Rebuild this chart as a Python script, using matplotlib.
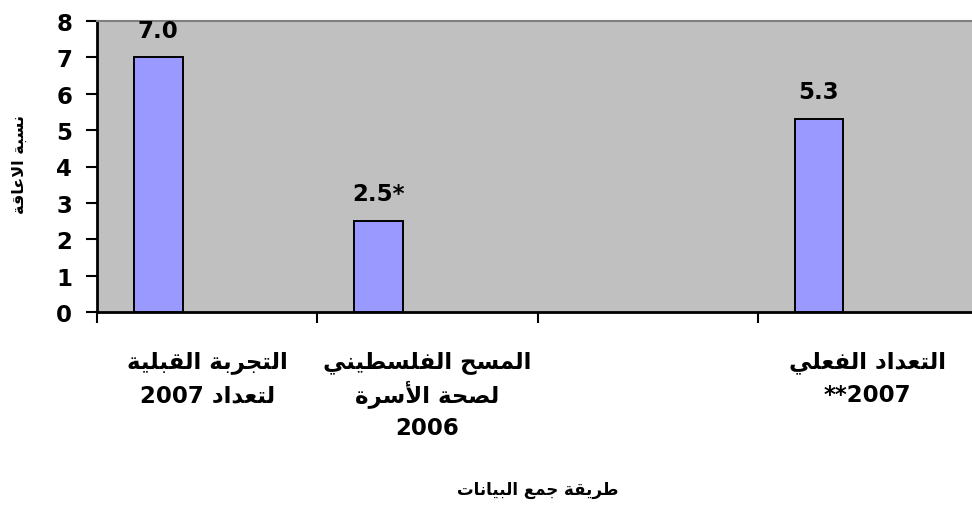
import re
import numpy as np
import matplotlib
matplotlib.use("Agg")
import matplotlib.pyplot as plt

categories = ["التجربة القبلية\nلتعداد 2007",
              "المسح الفلسطيني\nلصحة الأسرة\n2006",
              "",
              "التعداد الفعلي\n**2007"]
values = [7.0, 2.5, np.nan, 5.3]
value_labels = ["7.0", "2.5*", "", "5.3"]
y_label = "نسبة الاعاقة"
x_label = "طريقة جمع البيانات"

# Arabic presentation forms: isolated, final, initial, medial
FORMS = {
    'ا': ('\uFE8D', '\uFE8E', None, None),
    'أ': ('\uFE83', '\uFE84', None, None),
    'ب': ('\uFE8F', '\uFE90', '\uFE91', '\uFE92'),
    'ة': ('\uFE93', '\uFE94', None, None),
    'ت': ('\uFE95', '\uFE96', '\uFE97', '\uFE98'),
    'ج': ('\uFE9D', '\uFE9E', '\uFE9F', '\uFEA0'),
    'ح': ('\uFEA1', '\uFEA2', '\uFEA3', '\uFEA4'),
    'د': ('\uFEA9', '\uFEAA', None, None),
    'ر': ('\uFEAD', '\uFEAE', None, None),
    'س': ('\uFEB1', '\uFEB2', '\uFEB3', '\uFEB4'),
    'ص': ('\uFEB9', '\uFEBA', '\uFEBB', '\uFEBC'),
    'ط': ('\uFEC1', '\uFEC2', '\uFEC3', '\uFEC4'),
    'ع': ('\uFEC9', '\uFECA', '\uFECB', '\uFECC'),
    'ف': ('\uFED1', '\uFED2', '\uFED3', '\uFED4'),
    'ق': ('\uFED5', '\uFED6', '\uFED7', '\uFED8'),
    'ل': ('\uFEDD', '\uFEDE', '\uFEDF', '\uFEE0'),
    'م': ('\uFEE1', '\uFEE2', '\uFEE3', '\uFEE4'),
    'ن': ('\uFEE5', '\uFEE6', '\uFEE7', '\uFEE8'),
    'ي': ('\uFEF1', '\uFEF2', '\uFEF3', '\uFEF4'),
    'لا': ('\uFEFB', '\uFEFC', None, None),
    'لأ': ('\uFEF7', '\uFEF8', None, None),
}


def shape(text):
    units = []
    i = 0
    while i < len(text):
        if text[i] == 'ل' and i + 1 < len(text) and text[i + 1] in 'اأ':
            units.append(text[i:i + 2])
            i += 2
        else:
            units.append(text[i])
            i += 1
    out = []
    for k, u in enumerate(units):
        if u not in FORMS:
            out.append(u)
            continue
        prev = units[k - 1] if k > 0 else None
        nxt = units[k + 1] if k + 1 < len(units) else None
        jp = prev in FORMS and FORMS[prev][2] is not None
        jn = FORMS[u][2] is not None and nxt in FORMS
        iso, fin, ini, med = FORMS[u]
        out.append(med if (jp and jn) else fin if jp else ini if jn else iso)
    return ''.join(out)


def ar(line):
    # shape + reverse to visual order, keeping number runs left-to-right
    if not any(c in FORMS for c in line):
        return line
    rev = shape(line)[::-1]
    return re.sub(r'[0-9.]+', lambda m: m.group(0)[::-1], rev)


plt.rcParams['font.family'] = ['DejaVu Sans']
plt.rcParams['font.weight'] = 'bold'

fig = plt.figure(figsize=(9.72, 5.06), dpi=100)
ax = fig.add_axes([97 / 972, 1 - 313 / 506, 881 / 972, 291 / 506])
ax.set_facecolor('#C0C0C0')

x = np.arange(len(categories))
bar_w = 0.222
ax.bar(x - bar_w, values, width=bar_w, color='#9999FF',
       edgecolor='black', linewidth=1.4, zorder=3)

for xi, v, lab in zip(x, values, value_labels):
    if lab:
        ax.annotate(lab, (xi - bar_w, v), xytext=(0, 15), textcoords='offset points',
                    ha='center', va='baseline', fontsize=16.5, fontweight='bold')

ax.set_xlim(-0.5, 3.5)
ax.set_ylim(0, 8)
ax.set_yticks(range(0, 9))
ax.tick_params(axis='y', labelsize=16.5, length=8, width=1.5, pad=10)

ax.set_xticks(np.arange(-0.5, 4.0, 1.0))
ax.set_xticklabels([])
ax.tick_params(axis='x', length=8, width=1.5)

# category labels, one line at a time below the axis
line_offsets = [40, 64, 88]
for xi, cat in zip(x, categories):
    for j, line in enumerate(cat.split("\n") if cat else []):
        ax.annotate(ar(line), (xi, 0), xycoords=('data', 'axes fraction'),
                    xytext=(0, -line_offsets[j]), textcoords='offset points',
                    ha='center', va='baseline', fontsize=16.5, fontweight='bold',
                    annotation_clip=False)

for s in ['left', 'bottom']:
    ax.spines[s].set_linewidth(2)
    ax.spines[s].set_color('black')
ax.spines['top'].set_color('#808080')
ax.spines['top'].set_linewidth(1.5)
ax.spines['right'].set_visible(False)

fig.text(19 / 972, 1 - 165 / 506, ar(y_label), rotation=90, ha='center', va='center',
         fontsize=11.5, fontweight='bold')
fig.text(538 / 972, 1 - 490 / 506, ar(x_label), ha='center', va='center',
         fontsize=12, fontweight='bold')

plt.savefig('out.png', dpi=100)
